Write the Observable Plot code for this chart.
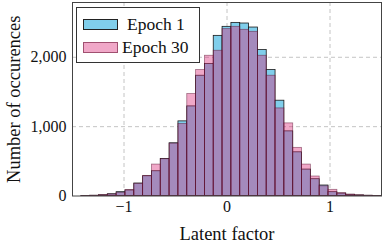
<!DOCTYPE html>
<html>
<head>
<meta charset="utf-8">
<script src="https://cdn.jsdelivr.net/npm/d3@7"></script>
<script src="https://cdn.jsdelivr.net/npm/@observablehq/plot@0.6"></script>
<style>
  html, body { margin: 0; padding: 0; background: #fff; }
  #wrap { position: relative; width: 382px; height: 252px; font-family: "Liberation Serif", serif; }
  #wrap svg text { font-family: "Liberation Serif", serif; }
  #legend { position: absolute; left: 76px; top: 7px; width: 124px; height: 56px; border: 1px solid #333; background: #fff; box-sizing: border-box; }
  .sw { position: absolute; left: 6px; width: 35px; height: 11px; box-sizing: border-box; }
  .lt { position: absolute; font-family: "Liberation Serif", serif; font-size: 17.5px; line-height: 18px; color: #111; white-space: nowrap; }
</style>
</head>
<body>
<div id="wrap"></div>
<script>
// Histogram bins: lower edges (35 bins over [-1.5, 1.5])
const binLow = [-1.5, -1.4143, -1.3286, -1.2429, -1.1571, -1.0714, -0.9857, -0.9, -0.8143, -0.7286,
  -0.6429, -0.5571, -0.4714, -0.3857, -0.3, -0.2143, -0.1286, -0.0429, 0.0429, 0.1286,
  0.2143, 0.3, 0.3857, 0.4714, 0.5571, 0.6429, 0.7286, 0.8143, 0.9, 0.9857,
  1.0714, 1.1571, 1.2429, 1.3286, 1.4143];
const binWidth = 3 / 35;

const epoch1 = [0, 1, 3, 10, 25, 55, 80, 180, 285, 357,
  535, 760, 1076, 1292, 1734, 1902, 2309, 2439, 2496, 2487,
  2429, 2104, 1816, 1374, 932, 630, 381, 242, 151, 55,
  35, 17, 8, 3, 1];
const epoch30 = [0, 1, 4, 12, 22, 45, 85, 175, 290, 453,
  530, 755, 1039, 1470, 1816, 2022, 2094, 2406, 2439, 2396,
  2367, 2022, 1734, 1263, 1047, 694, 453, 281, 140, 89,
  40, 20, 10, 4, 1];

const seriesNames = ["Epoch 1", "Epoch 30"];
const xTicks = [-1, 0, 1];
const yTicks = [0, 1000, 2000];
const xLabel = "Latent factor";
const yLabel = "Number of occurences";

const rows1 = binLow.map((x, i) => ({x1: x, x2: x + binWidth, y: epoch1[i]}));
const rows30 = binLow.map((x, i) => ({x1: x, x2: x + binWidth, y: epoch30[i]}));

const blue = "#80CEEB";
const pink = "rgb(217,37,117)";

const chart = Plot.plot({
  width: 382,
  height: 252,
  marginLeft: 72,
  marginRight: 1,
  marginTop: 2,
  marginBottom: 56.5,
  style: {fontFamily: "'Liberation Serif', serif", fontSize: "16px", color: "#111", background: "#fff"},
  x: {domain: [-1.5, 1.5]},
  y: {domain: [0, 2790]},
  marks: [
    Plot.gridX(xTicks, {stroke: "#bdbdbd", strokeOpacity: 1, strokeDasharray: "4,3", strokeWidth: 0.9}),
    Plot.gridY(yTicks.filter(d => d > 0), {stroke: "#bdbdbd", strokeOpacity: 1, strokeDasharray: "4,3", strokeWidth: 0.9}),
    Plot.rectY(rows1, {x1: "x1", x2: "x2", y: "y", fill: blue, stroke: "#1a1a1a", strokeWidth: 0.8}),
    Plot.rectY(rows30, {x1: "x1", x2: "x2", y: "y", fill: pink, fillOpacity: 0.4, stroke: "#5a1030", strokeOpacity: 0.55, strokeWidth: 0.8}),
    Plot.axisX(xTicks, {tickSize: 0, tickPadding: 5, label: null, fontSize: 16,
      tickFormat: d => d < 0 ? "\u2212" + Math.abs(d) : String(d)}),
    Plot.axisY(yTicks, {tickSize: 0, tickPadding: 6, label: null, fontSize: 16, tickFormat: d3.format(",")}),
    Plot.frame({stroke: "#444", strokeWidth: 1}),
    Plot.text([xLabel], {frameAnchor: "bottom", dy: 44, fontSize: 18.5, fill: "#111"}),
    Plot.text([yLabel], {frameAnchor: "left", textAnchor: "middle", dx: -58.5, rotate: -90, fontSize: 18.5, fill: "#111"})
  ]
});

const wrap = document.getElementById("wrap");
wrap.appendChild(chart);

const legend = document.createElement("div");
legend.id = "legend";
const entries = [
  {name: seriesNames[0], fill: blue, border: "#222", top: 11, textLeft: 50},
  {name: seriesNames[1], fill: "rgb(240,168,200)", border: "#a05070", top: 34, textLeft: 45}
];
for (const e of entries) {
  const sw = document.createElement("div");
  sw.className = "sw";
  sw.style.top = e.top + "px";
  sw.style.background = e.fill;
  sw.style.border = "1px solid " + e.border;
  legend.appendChild(sw);
  const t = document.createElement("div");
  t.className = "lt";
  t.style.left = e.textLeft + "px";
  t.style.top = (e.top - 4) + "px";
  t.textContent = e.name;
  legend.appendChild(t);
}
wrap.appendChild(legend);
</script>
</body>
</html>
